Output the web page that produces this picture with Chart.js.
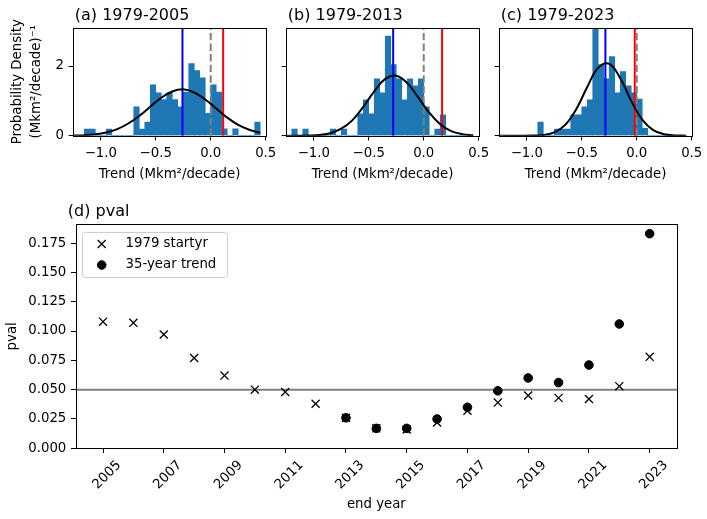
<!DOCTYPE html>
<html>
<head>
<meta charset="utf-8">
<script src="https://cdn.jsdelivr.net/npm/chart.js"></script>
<style>
  body { margin: 0; background: #fff; }
  #wrap { position: relative; width: 707px; height: 519px; overflow: hidden; }
  canvas { position: absolute; }
</style>
</head>
<body>
<div id="wrap">
  <canvas id="histA" width="291" height="190" style="left:0px;top:0px"></canvas>
  <canvas id="histB" width="228" height="190" style="left:276px;top:0px"></canvas>
  <canvas id="histC" width="228" height="190" style="left:489px;top:0px"></canvas>
  <canvas id="pvalChart" width="707" height="329" style="left:0px;top:190px"></canvas>
</div>
<script>
// histogram bins (centres, width 0.05)
var binMid = [-1.175, -1.125, -1.075, -1.025, -0.975, -0.925, -0.875, -0.825, -0.775, -0.725,
              -0.675, -0.625, -0.575, -0.525, -0.475, -0.425, -0.375, -0.325, -0.275, -0.225,
              -0.175, -0.125, -0.075, -0.025, 0.025, 0.075, 0.125, 0.175, 0.225, 0.275,
              0.325, 0.375, 0.425];
var densA = [0, 0.19, 0.19, 0, 0, 0.19, 0, 0, 0, 0,
             0.83, 0.19, 0.39, 1.46, 1.23, 1.04, 1.23, 1.04, 0.83, 1.25,
             2.07, 1.87, 1.66, 0.64, 1.46, 1.25, 0.2, 0, 0.2, 0,
             0, 0, 0.39];
var densB = [0.19, 0, 0.19, 0, 0, 0, 0, 0.19, 0, 0.19,
             0, 0, 0.63, 1.03, 0.63, 1.63, 1.23, 2.86, 2.04, 1.63,
             1.03, 1.63, 1.43, 1.63, 0.83, 0, 0.19, 0.6, 0, 0,
             0, 0, 0];
var densC = [0, 0, 0, 0, 0, 0, 0.39, 0, 0, 0.19,
             0.19, 0.19, 0.6, 0.6, 0.83, 1.03, 3.08, 2.04, 1.63, 2.27,
             1.23, 1.84, 1.43, 1.23, 1.05, 0.21, 0, 0, 0, 0,
             0, 0, 0];

// fitted normal curves
var curveX = [-1.25, -1.15, -1.05, -0.95, -0.85, -0.75, -0.65, -0.55, -0.45, -0.35,
              -0.25, -0.15, -0.05, 0.05, 0.15, 0.25, 0.35, 0.45];
var curveA = [0.006, 0.016, 0.041, 0.094, 0.19, 0.35, 0.57, 0.83, 1.09, 1.27,
              1.33, 1.24, 1.04, 0.78, 0.52, 0.31, 0.17, 0.08];
var curveB = [0.0, 0.001, 0.006, 0.022, 0.072, 0.2, 0.44, 0.83, 1.27, 1.63,
              1.72, 1.51, 1.1, 0.66, 0.33, 0.13, 0.045, 0.013];
var curveC = [0.0, 0.0, 0.001, 0.004, 0.023, 0.098, 0.31, 0.76, 1.4, 1.95,
              2.06, 1.65, 1.0, 0.46, 0.16, 0.042, 0.009, 0.001];

var meanTrend = [-0.257, -0.278, -0.285];   // blue
var obsTrend = [0.113, 0.167, -0.018];      // red
var zeroTrend = 0;                          // grey dashed
var panelTitles = ['(a) 1979-2005', '(b) 1979-2013', '(c) 1979-2023'];
var trendTicks = [-1.0, -0.5, 0.0, 0.5];
var densTicks = [0, 2];
var densMax = 3.1;

// pval panel
var endYears = [2005, 2006, 2007, 2008, 2009, 2010, 2011, 2012, 2013, 2014,
                2015, 2016, 2017, 2018, 2019, 2020, 2021, 2022, 2023];
var pStart1979 = [0.108, 0.107, 0.097, 0.077, 0.062, 0.050, 0.048, 0.038, 0.026, 0.017,
                  0.016, 0.022, 0.032, 0.039, 0.045, 0.043, 0.042, 0.053, 0.078];
var trendYears = [2013, 2014, 2015, 2016, 2017, 2018, 2019, 2020, 2021, 2022, 2023];
var p35yr = [0.026, 0.017, 0.017, 0.025, 0.035, 0.049, 0.060, 0.056, 0.071, 0.106, 0.183];
var pvalTicks = [0, 0.025, 0.05, 0.075, 0.1, 0.125, 0.15, 0.175];
var yearTicks = [2005, 2007, 2009, 2011, 2013, 2015, 2017, 2019, 2021, 2023];
var pThreshold = 0.05;

Chart.defaults.font.family = '"DejaVu Sans", sans-serif';
Chart.defaults.font.size = 13.3;
Chart.defaults.color = '#000';
Chart.defaults.animation = false;
Chart.defaults.plugins.legend.display = false;
Chart.defaults.plugins.tooltip.enabled = false;

function minus(s) { return s.replace('-', '\u2212'); }

// box around the axes (matplotlib spines)
var frame = {
  id: 'frame',
  afterDatasetsDraw: function (chart) {
    var ctx = chart.ctx, a = chart.chartArea;
    var l = Math.round(a.left) + 0.5, t = Math.round(a.top) + 0.5;
    var r = Math.round(a.right) + 0.5, b = Math.round(a.bottom) + 0.5;
    ctx.save();
    ctx.strokeStyle = '#000';
    ctx.lineWidth = 1;
    ctx.strokeRect(l, t, r - l, b - t);
    ctx.restore();
  }
};

// left-aligned panel title
var cornerTitle = {
  id: 'cornerTitle',
  afterDraw: function (chart, args, opts) {
    var ctx = chart.ctx, a = chart.chartArea;
    ctx.save();
    ctx.font = '16px "DejaVu Sans", sans-serif';
    ctx.fillStyle = '#000';
    ctx.textBaseline = 'alphabetic';
    ctx.textAlign = 'left';
    ctx.fillText(opts.text, a.left + opts.dx, a.top - opts.dy);
    ctx.restore();
  }
};

// framed legend inside the axes
var boxLegend = {
  id: 'boxLegend',
  afterDraw: function (chart) {
    var ctx = chart.ctx, a = chart.chartArea;
    var items = chart.data.datasets.filter(function (d) { return d.label; });
    var x = a.left + 6.3, y = a.top + 7.7, w = 145, h = 45;
    ctx.save();
    ctx.beginPath();
    if (ctx.roundRect) ctx.roundRect(x + 0.5, y + 0.5, w, h, 3); else ctx.rect(x + 0.5, y + 0.5, w, h);
    ctx.fillStyle = 'rgba(255,255,255,0.8)';
    ctx.fill();
    ctx.strokeStyle = '#cccccc';
    ctx.lineWidth = 1;
    ctx.stroke();
    items.forEach(function (d, i) {
      var cy = y + 12 + i * 21;
      ctx.strokeStyle = '#000';
      ctx.fillStyle = '#000';
      ctx.lineWidth = d.pointBorderWidth;
      Chart.helpers.drawPoint(ctx, {
        pointStyle: d.pointStyle, radius: d.pointRadius,
        borderWidth: d.pointBorderWidth, rotation: 0
      }, x + 19.7, cy);
      ctx.font = '13.3px "DejaVu Sans", sans-serif';
      ctx.textBaseline = 'middle';
      ctx.textAlign = 'left';
      ctx.fillText(d.label, x + 43.5, cy);
    });
    ctx.restore();
  }
};

function vline(x, color, dash, order) {
  return {
    type: 'line',
    data: [{x: x, y: 0}, {x: x, y: densMax}],
    borderColor: color, borderWidth: 2, borderDash: dash,
    pointRadius: 0, order: order
  };
}

function histPanel(id, k, dens, curve, showY) {
  var canvas = document.getElementById(id);
  var yWidth = showY ? 73.3 : 10.3;
  return new Chart(canvas, {
    type: 'bar',
    data: {
      datasets: [
        {
          type: 'line',
          data: curveX.map(function (x, i) { return {x: x, y: curve[i]}; }),
          borderColor: '#000', borderWidth: 2, pointRadius: 0, tension: 0.4, order: 0
        },
        vline(zeroTrend, 'grey', [7.4, 3.2], 1),
        vline(obsTrend[k], 'red', [], 2),
        vline(meanTrend[k], 'blue', [], 3),
        {
          type: 'bar',
          data: binMid.map(function (x, i) { return {x: x, y: dens[i]}; }),
          backgroundColor: '#1f77b4', borderWidth: 0,
          barPercentage: 1, categoryPercentage: 1, order: 10
        }
      ]
    },
    options: {
      responsive: false,
      events: [],
      layout: { padding: { left: 0, top: 27.7, right: 25.3, bottom: 0 } },
      scales: {
        x: {
          type: 'linear', min: -1.25, max: 0.5, offset: false,
          grid: { offset: false, drawOnChartArea: false, tickLength: 4.7, tickColor: '#000', tickWidth: 1 },
          border: { display: false },
          afterBuildTicks: function (s) { s.ticks = trendTicks.map(function (v) { return {value: v}; }); },
          afterFit: function (s) { s.height = 54.3; },
          ticks: {
            padding: 5.3, maxRotation: 0, autoSkip: false,
            callback: function (v) { return minus(Number(v).toFixed(1)); }
          },
          title: { display: true, text: 'Trend (Mkm\u00b2/decade)', padding: { top: 0, bottom: 7 } }
        },
        y: {
          min: 0, max: densMax,
          grid: { drawOnChartArea: false, tickLength: 4.7, tickColor: '#000', tickWidth: 1 },
          border: { display: false },
          afterBuildTicks: function (s) { s.ticks = densTicks.map(function (v) { return {value: v}; }); },
          afterFit: function (s) { s.width = yWidth; },
          ticks: {
            padding: 4.7,
            callback: function (v) { return showY ? String(v) : ''; }
          },
          title: {
            display: showY,
            text: ['Probability Density', '(Mkm\u00b2/decade)\u207b\u00b9'],
            font: { size: 13.3, lineHeight: 1.42 },
            padding: { top: 8.5, bottom: 0 }
          }
        }
      },
      plugins: { cornerTitle: { text: panelTitles[k], dx: 1.5, dy: 7.7 } }
    },
    plugins: [frame, cornerTitle]
  });
}

histPanel('histA', 0, densA, curveA, true);
histPanel('histB', 1, densB, curveB, false);
histPanel('histC', 2, densC, curveC, false);

new Chart(document.getElementById('pvalChart'), {
  type: 'scatter',
  data: {
    datasets: [
      {
        label: '1979 startyr',
        data: endYears.map(function (yr, i) { return {x: yr, y: pStart1979[i]}; }),
        pointStyle: 'crossRot', pointRadius: 5.7, pointBorderWidth: 1.3,
        borderColor: '#000', backgroundColor: '#000', order: 1
      },
      {
        label: '35-year trend',
        data: trendYears.map(function (yr, i) { return {x: yr, y: p35yr[i]}; }),
        pointStyle: 'circle', pointRadius: 4.3, pointBorderWidth: 1,
        borderColor: '#000', backgroundColor: '#000', order: 0
      },
      {
        type: 'line',
        data: [{x: 2004.1, y: pThreshold}, {x: 2023.9, y: pThreshold}],
        borderColor: 'grey', borderWidth: 2, pointRadius: 0, order: 2
      }
    ]
  },
  options: {
    responsive: false,
    events: [],
    layout: { padding: { left: 0, top: 34.3, right: 30, bottom: 0 } },
    scales: {
      x: {
        type: 'linear', min: 2004.1, max: 2023.9,
        grid: { drawOnChartArea: false, tickLength: 4.7, tickColor: '#000', tickWidth: 1 },
        border: { display: false },
        afterBuildTicks: function (s) { s.ticks = yearTicks.map(function (v) { return {value: v}; }); },
        afterFit: function (s) { s.height = 70.7; },
        ticks: {
          padding: 4.4, minRotation: 45, maxRotation: 45, autoSkip: false, labelOffset: 16,
          callback: function (v) { return String(v); }
        },
        title: { display: true, text: 'end year', padding: { top: 0, bottom: 6 } }
      },
      y: {
        min: 0, max: 0.191,
        grid: { drawOnChartArea: false, tickLength: 4.7, tickColor: '#000', tickWidth: 1 },
        border: { display: false },
        afterBuildTicks: function (s) { s.ticks = pvalTicks.map(function (v) { return {value: v}; }); },
        afterFit: function (s) { s.width = 75.7; },
        ticks: { padding: 4.7, callback: function (v) { return Number(v).toFixed(3); } },
        title: { display: true, text: 'pval', padding: { top: 5, bottom: 0 } }
      }
    },
    plugins: { cornerTitle: { text: '(d) pval', dx: -7.9, dy: 8.6 } }
  },
  plugins: [frame, cornerTitle, boxLegend]
});
</script>
</body>
</html>
